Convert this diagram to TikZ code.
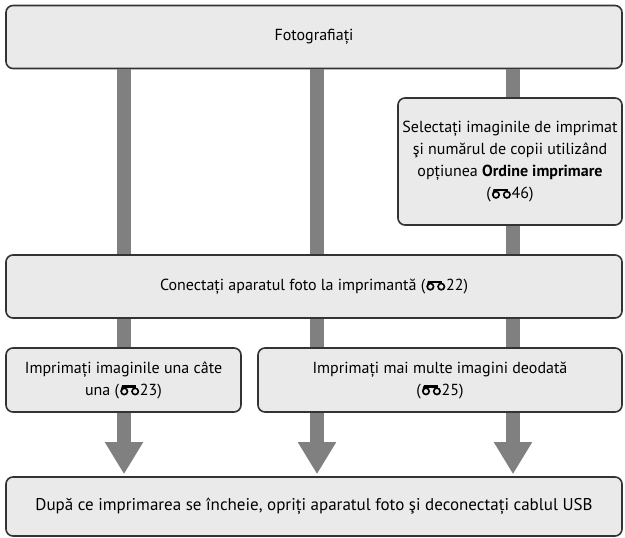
\documentclass[tikz,border=0pt]{standalone}
\usepackage{fontspec}
\setmainfont{PT Sans}
\usetikzlibrary{arrows.meta}
\definecolor{boxfill}{HTML}{EAEAEA}
\definecolor{boxline}{HTML}{333333}
\definecolor{barcol}{HTML}{808080}
\newcommand{\bino}{\tikz[baseline=0pt,x=1em,y=1em,line width=0.1em,rounded corners=0pt]{%
  \useasboundingbox (0,0) rectangle (1.30,0.66);
  \draw (0.32,0.23) circle (0.20);
  \draw (1.00,0.23) circle (0.20);
  \fill (0.20,0.44) rectangle (1.02,0.60);
  \draw (0.13,0.23) .. controls (0.12,0.42) .. (0.22,0.58);
  \fill (0.93,0.40) rectangle (1.07,0.60);}}
\tikzset{
  box/.style={draw=boxline, fill=boxfill, line width=1.6pt, rounded corners=7pt,
    align=center, font=\fontsize{16}{22}\selectfont, inner sep=0pt},
  bar/.style={draw=barcol, line width=14pt},
  bararrow/.style={draw=barcol, line width=14pt,
    -{Triangle[width=36pt,length=32pt]}, shorten >=2pt},
}
\begin{document}
\begin{tikzpicture}[x=1pt,y=-1pt]
\useasboundingbox (0,0) rectangle (625,538);
% column coordinates
\coordinate (c1) at (124,0);
\coordinate (c2) at (317,0);
\coordinate (c3) at (513,0);
% boxes
\node[box, minimum width=616pt, minimum height=63pt] (top) at (314,37) {Fotografiați};
\node[box, minimum width=224pt, minimum height=127pt] (sel) at (510,161.5)
  {Selectați imaginile de imprimat\\şi numărul de copii utilizând\\opțiunea \textbf{Ordine imprimare}\\(\bino46)};
\node[box, minimum width=616pt, minimum height=63pt] (mid) at (314,286.5)
  {Conectați aparatul foto la imprimantă (\bino22)};
\node[box, minimum width=235pt, minimum height=64pt] (one) at (123.5,380)
  {Imprimați imaginile una câte\\una (\bino23)};
\node[box, minimum width=364pt, minimum height=64pt] (many) at (440,380)
  {Imprimați mai multe imagini deodată\\(\bino25)};
\node[box, minimum width=616pt, minimum height=59pt, font=\fontsize{17}{22}\selectfont] (end) at (314,506.5)
  {După ce imprimarea se încheie, opriți aparatul foto şi deconectați cablul USB};
% connectors
\draw[bar] (top.south -| c1) -- (mid.north -| c1);
\draw[bar] (top.south -| c2) -- (mid.north -| c2);
\draw[bar] (top.south -| c3) -- (sel.north -| c3);
\draw[bar] (sel.south -| c3) -- (mid.north -| c3);
\draw[bar] (mid.south -| c1) -- (one.north -| c1);
\draw[bar] (mid.south -| c2) -- (many.north -| c2);
\draw[bar] (mid.south -| c3) -- (many.north -| c3);
\draw[bararrow] (one.south -| c1) -- (end.north -| c1);
\draw[bararrow] (many.south -| c2) -- (end.north -| c2);
\draw[bararrow] (many.south -| c3) -- (end.north -| c3);
\end{tikzpicture}
\end{document}
